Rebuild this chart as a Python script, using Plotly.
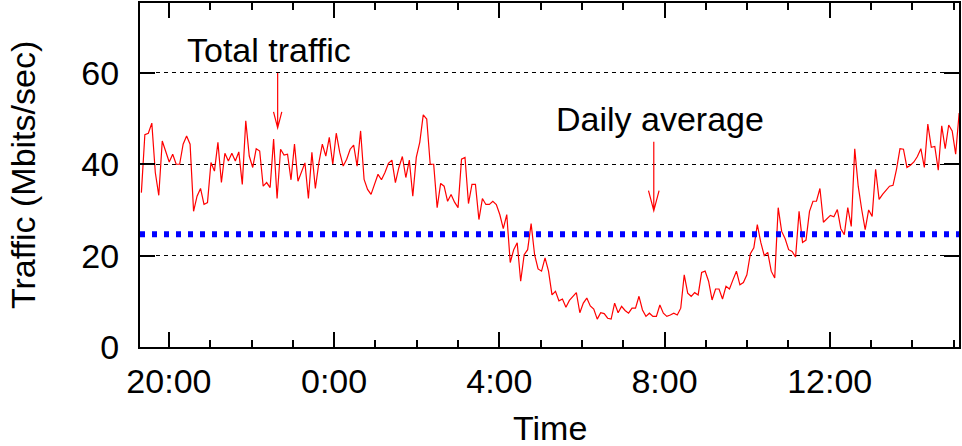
import numpy as np
import plotly.graph_objects as go

# ---- data (Mbits/sec, roughly 5-minute samples from 19:20 to ~15:08 next day) ----
traffic = [
    33.8, 46.5, 46.8, 49.0, 38.2, 33.2, 45.1, 42.6, 40.5, 42.2, 40.0, 40.0, 44.4, 46.2, 44.4, 29.7,
    33.0, 34.7, 31.2, 31.6, 40.4, 38.5, 44.8, 36.0, 42.4, 40.7, 42.4, 40.7, 42.7, 35.6, 49.5, 41.8, 39.3,
    43.4, 42.9, 35.2, 36.0, 34.9, 45.5, 32.5, 43.3, 42.0, 42.2, 36.6, 44.4, 36.3, 38.2, 40.3, 32.5,
    42.6, 34.7, 40.3, 44.4, 41.8, 45.9, 40.0, 46.8, 42.6, 39.6, 41.1, 43.3, 44.2, 39.6, 47.3, 36.7, 34.5,
    33.4, 35.6, 37.8, 36.6, 38.2, 40.2, 40.9, 36.0, 39.3, 41.7, 37.1, 40.9, 33.0, 41.5, 44.8, 50.8,
    49.9, 40.0, 40.0, 30.5, 35.8, 35.2, 31.9, 33.4, 31.7, 30.5, 41.1, 41.5, 31.4, 35.6, 35.6, 27.9, 32.5, 31.2,
    31.2, 31.9, 31.2, 29.0, 25.9, 29.0, 18.5, 21.3, 22.8, 14.4, 20.2, 21.3, 27.0, 20.2, 17.1, 16.6,
    19.5, 16.6, 11.4, 12.2, 10.1, 10.5, 8.7, 10.2, 11.1, 11.9, 7.5, 9.6, 10.7, 9.0, 8.3, 6.1, 7.5, 7.3, 6.3,
    6.1, 9.6, 7.5, 8.9, 8.0, 7.4, 8.5, 8.5, 11.1, 8.1, 6.7, 7.4, 6.7, 6.7, 9.2, 7.4, 6.7,
    7.0, 7.4, 7.0, 8.5, 15.8, 11.8, 11.1, 11.9, 11.4, 16.3, 16.6, 14.4, 10.3, 12.7, 12.7, 10.5, 13.3,
    12.7, 14.7, 16.6, 13.6, 14.1, 15.8, 20.4, 21.7, 26.8, 22.9, 20.0, 20.7, 16.6, 15.1, 30.5, 25.3, 23.7,
    21.3, 20.9, 19.7, 29.7, 22.9, 23.4, 29.7, 31.9, 31.9, 34.7, 27.3, 28.1, 28.8, 28.5, 30.1, 25.9, 24.6,
    30.5, 26.4, 43.4, 35.2, 30.1, 25.7, 30.0, 28.6, 38.9, 32.3, 33.4, 34.4, 35.2, 35.4, 38.9, 43.4, 43.3,
    39.3, 39.8, 40.5, 41.7, 43.4, 39.3, 48.8, 43.7, 43.9, 38.7, 48.4, 43.4, 48.6, 47.3, 42.2, 51.2,
]
daily_average = 24.7

# time axis in hours since midnight of the first day (24 = 0:00 next day)
time_start_h = 19 + 20 / 60      # 19:20
time_end_h = 24 + 15 + 8 / 60    # 15:08 next day
times = np.linspace(time_start_h, time_end_h, len(traffic))

x_range = [19.30, 39.13]
y_range = [0, 75.3]
tick_vals = [20, 24, 28, 32, 36]
tick_text = ["20:00", "0:00", "4:00", "8:00", "12:00"]
y_ticks = [0, 20, 40, 60]

# annotation labels: (text, x hour, y value) and arrows: (x hour, y top, y tip, head half-width h, head length)
labels = [("Total traffic", 22.42, 65.0), ("Daily average", 31.90, 49.9)]
arrows = [(22.633, 60.0, 47.95, 0.10, 3.5), (31.74, 44.95, 29.85, 0.128, 4.4)]

FONT = "Liberation Sans, Arial, sans-serif"
FS = 34

fig = go.Figure()
fig.add_trace(go.Scatter(x=times, y=traffic, mode="lines",
                         line=dict(color="#ff0000", width=1.2), showlegend=False))
fig.add_trace(go.Scatter(x=[x_range[0], x_range[1]], y=[daily_average, daily_average], mode="lines",
                         line=dict(color="#0000ff", width=6, dash="5px,7px"), showlegend=False))

for text, xh, yv in labels:
    fig.add_annotation(x=xh, y=yv, text=text, showarrow=False,
                       font=dict(family=FONT, size=FS, color="black"),
                       xanchor="center", yanchor="middle")

for xh, ytop, ytip, hw, hl in arrows:
    path = (f"M {xh},{ytop} L {xh},{ytip} "
            f"M {xh - hw},{ytip + hl} L {xh},{ytip} L {xh + hw},{ytip + hl}")
    fig.add_shape(type="path", path=path, xref="x", yref="y",
                  line=dict(color="#ff0000", width=1.2))

# axis titles
fig.add_annotation(x=0.5, y=0, xref="paper", yref="paper", text="Time", showarrow=False,
                   font=dict(family=FONT, size=FS, color="black"),
                   xanchor="center", yanchor="middle", yshift=-81)
fig.add_annotation(x=0, y=0.5, xref="paper", yref="paper", text="Traffic (Mbits/sec)",
                   showarrow=False, textangle=-90,
                   font=dict(family=FONT, size=FS, color="black"),
                   xanchor="center", yanchor="middle", xshift=-117)

fig.update_layout(
    width=962, height=446,
    margin=dict(l=140, r=1, t=3, b=99),
    paper_bgcolor="white", plot_bgcolor="white",
    font=dict(family=FONT, size=FS, color="black"),
    xaxis=dict(range=x_range, tickvals=tick_vals, ticktext=tick_text,
               ticks="inside", ticklen=15, tickwidth=2, tickcolor="black",
               showline=True, linecolor="black", linewidth=2, mirror="allticks",
               showgrid=False, zeroline=False, ticklabelstandoff=3,
               minor=dict(dtick=1, tick0=0, ticks="inside", ticklen=7, tickwidth=2,
                          tickcolor="black", showgrid=False),
               tickfont=dict(family=FONT, size=FS, color="black")),
    yaxis=dict(range=y_range, tickvals=y_ticks,
               ticks="inside", ticklen=15, tickwidth=2, tickcolor="black",
               showline=True, linecolor="black", linewidth=2, mirror="allticks",
               showgrid=True, gridcolor="black", gridwidth=1, griddash="4px,4px",
               zeroline=False, ticklabelstandoff=12,
               tickfont=dict(family=FONT, size=FS, color="black")),
)

fig.write_html("out.html", config={"displayModeBar": False},
               post_script="document.body.style.margin='0px';")
